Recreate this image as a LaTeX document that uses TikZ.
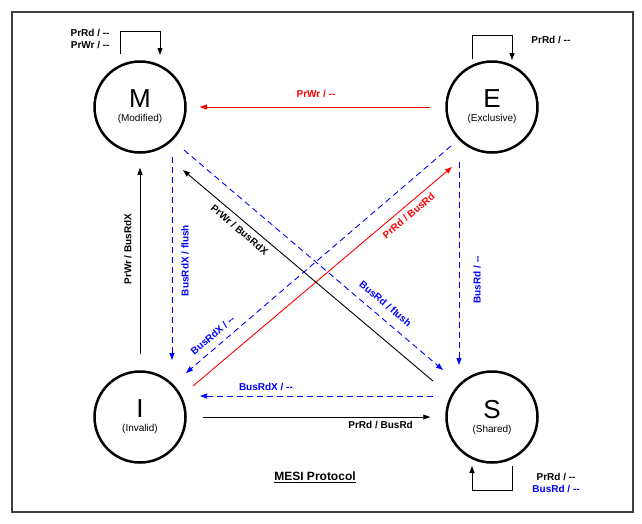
\documentclass[tikz,border=0pt]{standalone}
\usepackage{fontspec}
\setmainfont{Liberation Sans}
\usetikzlibrary{arrows.meta,positioning}

\newcommand{\nop}{-{}-}

\tikzset{
  state/.style={circle, draw, line width=2.5pt, minimum size=91pt, inner sep=0pt,
    align=center, font=\fontsize{26}{26}\selectfont},
  lbl/.style={font=\fontsize{10}{12}\selectfont\bfseries, inner sep=2pt},
  tr/.style={-{Triangle[length=7pt,width=5pt]}, line width=0.9pt},
  snoop/.style={tr, blue, dash pattern=on 6pt off 4pt},
}

\begin{document}
\begin{tikzpicture}[x=1pt, y=-1pt]
  \useasboundingbox (0,0) rectangle (642,523);
  \draw[line width=1.5pt, black!75] (12,12) rectangle (633,512);

  \node[state] (M) at (140,107) {M\\[-12pt]{\fontsize{10}{12}\selectfont (Modified)}};
  \node[state] (E) at (492,107) {E\\[-12pt]{\fontsize{10}{12}\selectfont (Exclusive)}};
  \node[state] (I) at (140,417) {I\\[-12pt]{\fontsize{10}{12}\selectfont (Invalid)}};
  \node[state] (S) at (492,417) {S\\[-12pt]{\fontsize{10}{12}\selectfont (Shared)}};

  % self loops
  \draw[tr] ([shift={(-20,-53)}]M.center) -- node[lbl, pos=0.65, left, inner xsep=10pt, align=right] {PrRd / \nop\\PrWr / \nop} ++(0,-23)
    -- ++(40,0) -- ([shift={(20,-52)}]M.center);
  \draw[tr] ([shift={(-20,-48)}]E.center) -- ++(0,-24) -- ++(40,0)
    -- node[lbl, pos=0.2, right, inner xsep=19pt] {PrRd / \nop} ([shift={(20,-47)}]E.center);
  \draw[tr] ([shift={(20,49)}]S.center) -- node[lbl, pos=0.7, right, inner xsep=20pt, align=center] {PrRd / \nop\\\textcolor{blue}{BusRd / \nop}} ++(0,24)
    -- ++(-40,0) -- ([shift={(-20,49)}]S.center);

  % processor transitions
  \draw[tr, red, shorten <=15pt, shorten >=13pt] (E) -- node[lbl, pos=0.5, above, inner ysep=9pt] {PrWr / \nop} (M);
  \draw[tr, shorten <=16pt, shorten >=14pt] (I) -- node[lbl, pos=0.56, rotate=90, anchor=south, inner ysep=8pt] {PrWr / BusRdX} (M);
  \draw[tr, shorten <=16pt, shorten >=15pt] (I) -- node[lbl, pos=0.75, below, inner ysep=4pt] {PrRd / BusRd} (S);
  \draw[tr, red] ([shift={(53,-31)}]I.center) -- node[lbl, pos=0.81, sloped, below, inner ysep=5pt] {PrRd / BusRd} ([shift={(-40,60)}]E.center);
  \draw[tr] ([shift={(-59,-36)}]S.center) -- node[lbl, pos=0.75, sloped, below, inner ysep=5pt] {PrWr / BusRdX} ([shift={(43,63)}]M.center);

  % bus transitions
  \draw[snoop] ([shift={(32,50)}]M.center) -- node[lbl, pos=0.51, rotate=90, anchor=north, inner ysep=9pt] {BusRdX / flush} ([shift={(32,-57)}]I.center);
  \draw[snoop] ([shift={(44,43)}]M.center) -- node[lbl, pos=0.745, sloped, above, inner ysep=9pt] {BusRd / flush} ([shift={(-49,-47)}]S.center);
  \draw[snoop] ([shift={(-41,39)}]E.center) -- node[lbl, pos=0.872, sloped, above, inner ysep=7pt] {BusRdX / \nop} ([shift={(46,-44)}]I.center);
  \draw[snoop] ([shift={(-33,55)}]E.center) -- node[lbl, pos=0.58, rotate=90, anchor=north, inner ysep=14pt] {BusRd / \nop} ([shift={(-33,-52)}]S.center);
  \draw[snoop] ([shift={(-59,-21)}]S.center) -- node[lbl, pos=0.717, above, inner ysep=4.5pt] {BusRdX / \nop} ([shift={(60,-21)}]I.center);

  \node[font=\fontsize{12}{14}\selectfont\bfseries] (title) at (315,477) {\underline{MESI Protocol}};
\end{tikzpicture}
\end{document}
